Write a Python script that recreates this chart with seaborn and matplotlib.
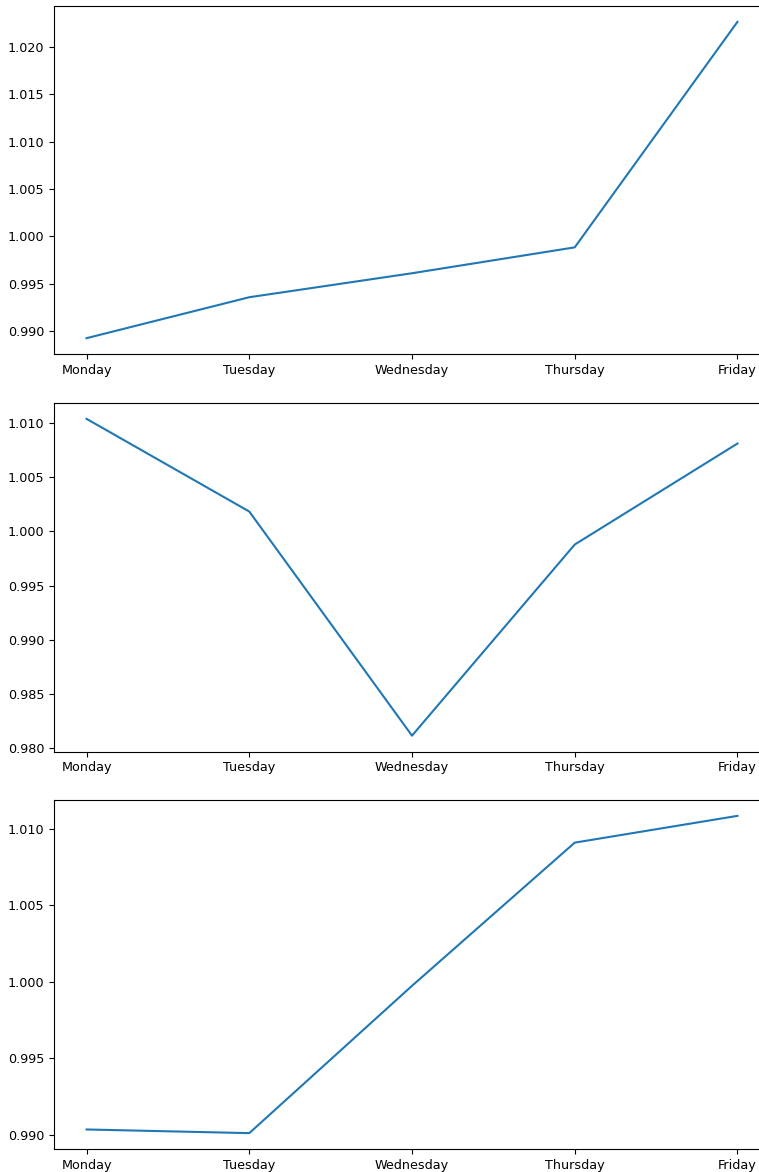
import matplotlib
matplotlib.use("Agg")
import matplotlib.pyplot as plt
import seaborn as sns

days = ["Monday", "Tuesday", "Wednesday", "Thursday", "Friday"]
series_1 = [0.98926, 0.99358, 0.99611, 0.99884, 1.02263]
series_2 = [1.0104, 1.00184, 0.98114, 0.99879, 1.00812]
series_3 = [0.99033, 0.99009, 0.99972, 1.00908, 1.01083]

plt.rcParams["font.family"] = ["DejaVu Sans"]
plt.rcParams["font.size"] = 9.2

fig = plt.figure(figsize=(7.59, 11.72), dpi=100)
W, H = 759.0, 1172.0
left = 54 / W
width = 716 / W
boxes = [(6, 354), (403, 751.5), (800, 1149)]

for (top, bot), vals in zip(boxes, [series_1, series_2, series_3]):
    ax = fig.add_axes([left, 1 - bot / H, width, (bot - top) / H])
    sns.lineplot(x=days, y=vals, ax=ax, color="#1f77b4", linewidth=1.5)
    ax.set_xlabel("")
    ax.set_ylabel("")

fig.savefig("out.png", dpi=100)
